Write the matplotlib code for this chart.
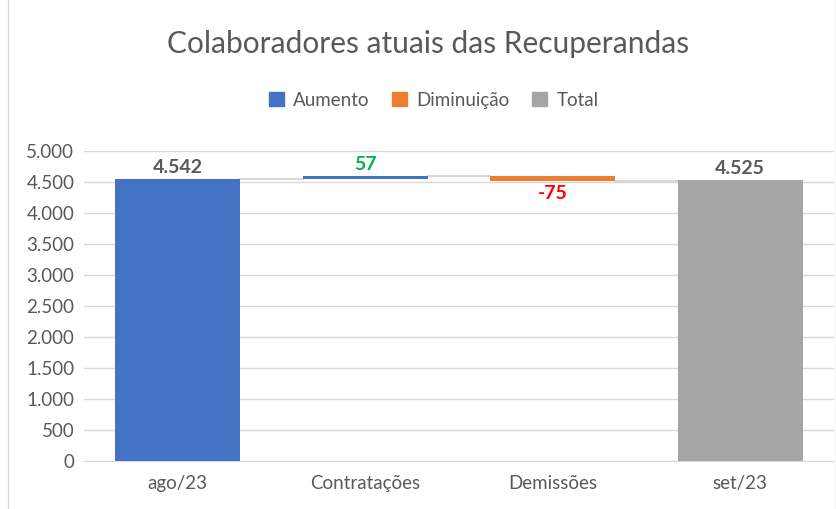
"""Waterfall: colaboradores atuais das recuperandas (ago/23 -> set/23)."""
import matplotlib.pyplot as plt
from matplotlib.patches import Patch, Rectangle
from matplotlib.ticker import FuncFormatter

categories = ["ago/23", "Contratações", "Demissões", "set/23"]
kinds = ["total", "up", "down", "total"]
values = [4542, 57, -75, 4525]
labels = ["4.542", "57", "-75", "4.525"]

BLUE = "#4472C4"
ORANGE = "#ED7D31"
GREY = "#A5A5A5"
TXT = "#595959"

plt.rcParams["font.family"] = ["Lato", "DejaVu Sans"]

fig = plt.figure(figsize=(8.37, 5.09), dpi=100)
fig.patches.append(Rectangle((0.009, -0.01), 0.99, 1.02, transform=fig.transFigure,
                             fill=False, edgecolor="#D9D9D9", lw=1))
ax = fig.add_axes([0.1004, 0.0943, 0.896, 0.609])

w = 0.667
level = 0
tops = []
for i, (k, v) in enumerate(zip(kinds, values)):
    if k == "total":
        ax.bar(i, v, width=w, color=BLUE if i == 0 else GREY, zorder=3)
        level = v
        ax.text(i, v + 50, labels[i], ha="center", va="bottom", fontsize=14,
                fontweight="bold", color=TXT)
    elif k == "up":
        ax.bar(i, v, bottom=level, width=w, color=BLUE, zorder=3)
        ax.text(i, level + v + 50, labels[i], ha="center", va="bottom", fontsize=14,
                fontweight="bold", color="#00B050")
        level += v
    else:
        ax.bar(i, v, bottom=level, width=w, color=ORANGE, zorder=3)
        ax.text(i, level + v - 70, labels[i], ha="center", va="top", fontsize=14,
                fontweight="bold", color="#FF0000")
        level += v
    tops.append(level)

# connector lines between bars
for i in range(len(categories) - 1):
    ax.plot([i + w / 2, i + 1 - w / 2], [tops[i], tops[i]], color="#D9D9D9",
            lw=1.5, zorder=2)

ax.set_xlim(-0.5, len(categories) - 0.5)
ax.set_ylim(0, 5000)
ax.set_yticks(range(0, 5001, 500))
ax.yaxis.set_major_formatter(FuncFormatter(lambda x, _: f"{int(x):,}".replace(",", ".")))
ax.set_xticks(range(len(categories)))
ax.set_xticklabels(categories)
ax.grid(axis="y", color="#D9D9D9", lw=1, zorder=0)
for s in ["top", "right", "left"]:
    ax.spines[s].set_visible(False)
ax.spines["bottom"].set_color("#D9D9D9")
ax.tick_params(axis="both", length=0, labelsize=13.5, colors=TXT, pad=7)
ax.tick_params(axis="x", pad=10)

fig.text(0.512, 0.913, "Colaboradores atuais das Recuperandas", ha="center",
         va="center", fontsize=21.5, color=TXT)
handles = [Patch(color=BLUE, label="Aumento"), Patch(color=ORANGE, label="Diminuição"),
           Patch(color=GREY, label="Total")]
fig.legend(handles=handles, loc="center", bbox_to_anchor=(0.518, 0.803), ncol=3,
           frameon=False, fontsize=13.5, handlelength=0.8, handleheight=0.8,
           columnspacing=1.2, handletextpad=0.5, labelcolor=TXT)

fig.savefig("out.png", dpi=100)
